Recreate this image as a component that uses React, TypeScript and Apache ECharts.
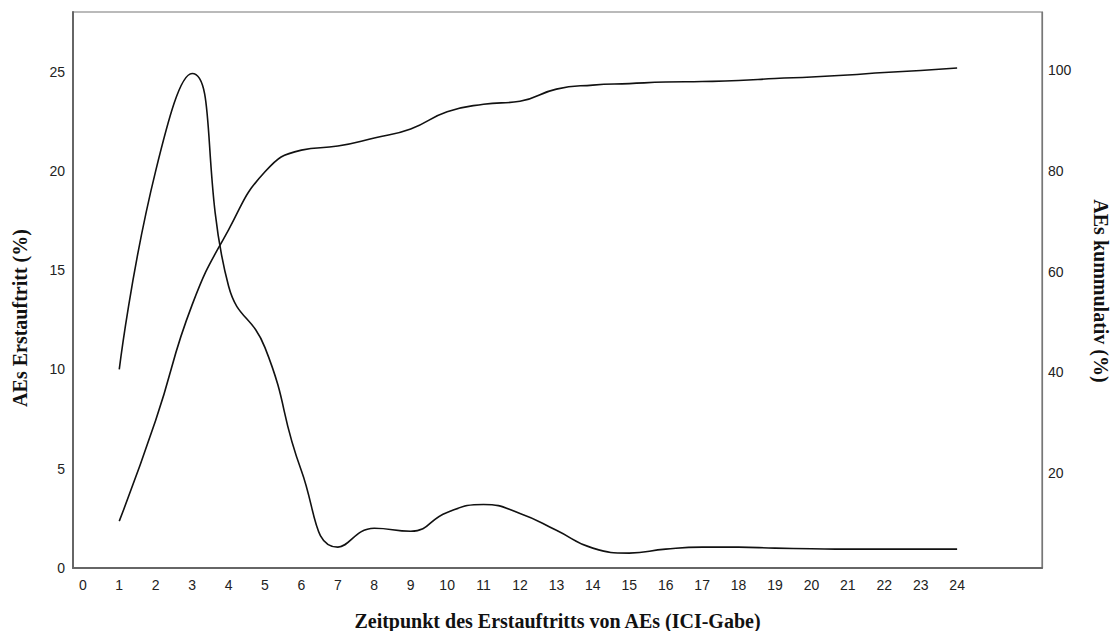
import React, { useEffect, useRef } from "react";
import * as echarts from "echarts";

const timepoints = [1, 2, 3, 4, 5, 6, 7, 8, 9, 10, 11, 12, 13, 14, 15, 16, 17, 18, 19, 20, 21, 22, 23, 24];
const firstOccurrence = [10, 20, 24.9, 14.2, 11.1, 4.9, 1.05, 2.0, 1.85, 2.8, 3.2, 2.75, 1.9, 1.0, 0.75, 0.95, 1.05, 1.05, 1.0, 0.97, 0.95, 0.95, 0.95, 0.95];
const cumulative = [10.5, 30.5, 53.4, 68.3, 79.8, 84.1, 84.9, 86.5, 88.3, 91.7, 93.2, 93.8, 96.2, 97.0, 97.3, 97.6, 97.7, 97.9, 98.3, 98.6, 99.0, 99.5, 99.9, 100.4];
const xTickLabels = [0, 1, 2, 3, 4, 5, 6, 7, 8, 9, 10, 11, 12, 13, 14, 15, 16, 17, 18, 19, 20, 21, 22, 23, 24];
const leftTicks = [0, 5, 10, 15, 20, 25];
const rightTicks = [20, 40, 60, 80, 100];

const xTitle = "Zeitpunkt des Erstauftritts von AEs (ICI-Gabe)";
const leftTitle = "AEs Erstauftritt (%)";
const rightTitle = "AEs kummulativ (%)";

export default function App() {
  const ref = useRef<HTMLDivElement>(null);
  useEffect(() => {
    if (!ref.current) return;
    const chart = echarts.init(ref.current, undefined, { renderer: "svg" });
    const labelStyle = { fontFamily: "Liberation Sans, Arial, sans-serif", fontSize: 14, color: "#222" };
    const titleFont = { fontFamily: "Liberation Serif, Times New Roman, serif", fontSize: 20, fontWeight: "bold" as const, color: "#111" };
    chart.setOption({
      animation: false,
      backgroundColor: "#fff",
      grid: {
        left: 73, right: 71, top: 12, bottom: 63,
        containLabel: false, outerBoundsMode: "none",
        show: true, borderColor: "#777", borderWidth: 1.2, backgroundColor: "transparent",
      },
      xAxis: {
        type: "value",
        min: -0.27,
        max: 26.33,
        name: xTitle,
        nameLocation: "middle",
        nameGap: 43,
        nameTextStyle: titleFont,
        axisLine: { show: true, onZero: false, lineStyle: { color: "#666", width: 2 } },
        axisTick: { show: false },
        splitLine: { show: false },
        axisLabel: { ...labelStyle, margin: 10, customValues: xTickLabels },
      },
      yAxis: [
        {
          type: "value",
          min: 0,
          max: 28,
          axisLine: { show: true, onZero: false, lineStyle: { color: "#666", width: 2 } },
          axisTick: { show: false },
          splitLine: { show: false },
          axisLabel: { ...labelStyle, margin: 8, customValues: leftTicks },
        },
        {
          type: "value",
          min: 1.2,
          max: 111.5,
          position: "right",
          axisLine: { show: true, onZero: false, lineStyle: { color: "#777", width: 1.2 } },
          axisTick: { show: false },
          splitLine: { show: false },
          axisLabel: { ...labelStyle, margin: 6, customValues: rightTicks },
        },
      ],
      graphic: [
        {
          type: "text",
          x: 20,
          y: 318,
          rotation: Math.PI / 2,
          style: { text: leftTitle, font: "bold 20px 'Liberation Serif', serif", fill: "#111", align: "center", verticalAlign: "middle" },
        },
        {
          type: "text",
          x: 1101,
          y: 291,
          rotation: -Math.PI / 2,
          style: { text: rightTitle, font: "bold 20px 'Liberation Serif', serif", fill: "#111", align: "center", verticalAlign: "middle" },
        },
      ],
      series: [
        {
          type: "line",
          yAxisIndex: 0,
          data: timepoints.map((t, i) => [t, firstOccurrence[i]]),
          smooth: 0.5,
          showSymbol: false,
          lineStyle: { color: "#111", width: 1.6 },
        },
        {
          type: "line",
          yAxisIndex: 1,
          data: timepoints.map((t, i) => [t, cumulative[i]]),
          smooth: 0.5,
          showSymbol: false,
          lineStyle: { color: "#111", width: 1.6 },
        },
      ],
    });
    return () => chart.dispose();
  }, []);
  return <div ref={ref} style={{ width: 1113, height: 631, position: "absolute", left: 0, top: 0 }} />;
}
